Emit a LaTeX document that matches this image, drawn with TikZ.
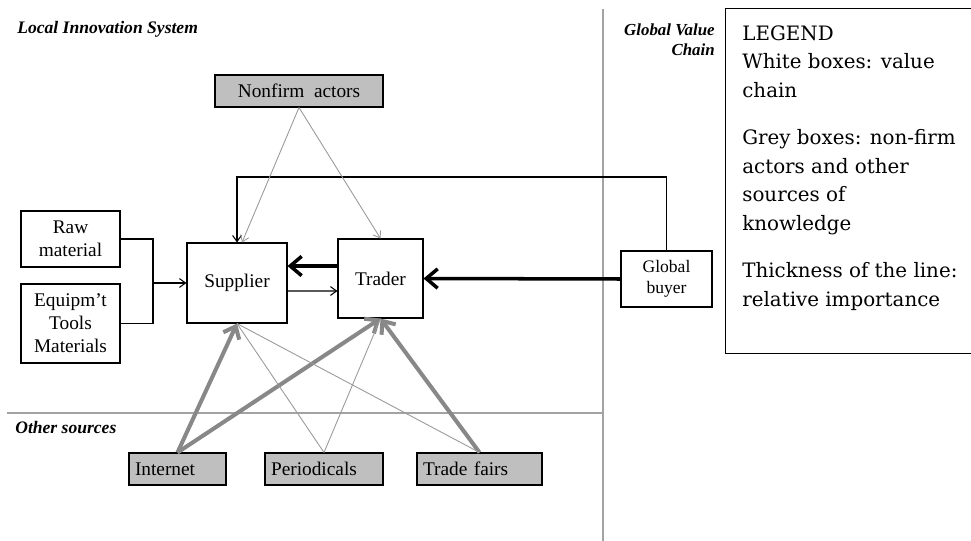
\documentclass[tikz,border=0pt]{standalone}
\usepackage{fontspec}
\setmainfont{Liberation Serif}
\newfontfamily\legendfont{DejaVu Serif}
\usetikzlibrary{arrows.meta,positioning,calc}

\definecolor{boxgrey}{HTML}{BFBFBF}
\definecolor{srcgrey}{HTML}{888888}
\definecolor{linegrey}{HTML}{999999}
\definecolor{sepgrey}{HTML}{A3A3A3}

\begin{document}
\begin{tikzpicture}[
    x=0.02cm, y=-0.02cm,
    font=\fontsize{11}{13}\selectfont,
    firm/.style={draw, rectangle, line width=0.6pt, fill=white, align=center, inner sep=1pt},
    source/.style={draw, rectangle, line width=0.6pt, fill=boxgrey, minimum height=0.64cm, inner xsep=0.12cm, inner ysep=0pt, align=left},
    heading/.style={font=\fontsize{10}{11.3}\selectfont\bfseries\itshape, inner sep=0pt},
    link/.style={draw, line width=0.6pt},
    flow/.style={draw, line width=0.6pt, -{Straight Barb[length=3.5pt,width=5pt]}},
    hint/.style={draw, linegrey, line width=0.5pt, -{Straight Barb[length=3.5pt,width=5pt]}},
    weak/.style={draw, linegrey, line width=0.5pt},
    strong/.style={draw, line width=2pt, -{Straight Barb[length=6.5pt,width=11pt]}},
    strongsrc/.style={draw, srcgrey, line width=2.3pt, -{Straight Barb[length=6pt,width=10pt]}},
    divider/.style={draw, sepgrey, line width=1.4pt}
]
    \useasboundingbox (0,0) rectangle (971,541);
    \clip (0,0) rectangle (971,541);

    % Dividers
    \path[divider] (603,9) -- (603,541);
    \path[divider] (7,413) -- (603,413);

    % Headings
    \node[heading, anchor=base west] (lis) at (17,33) {Local Innovation System};
    \node[heading, anchor=base west] (other) at (15,433) {Other sources};
    \node[heading, font=\fontsize{9.6}{11.6}\selectfont\bfseries\itshape, align=right, anchor=north east] (gvc) at (715,23) {Global Value\\Chain};

    % Nodes
    \node[source, minimum width=3.36cm, align=center] (nonfirm) at (299,91) {Nonfirm\ \ actors};
    \node[firm, minimum width=2cm, minimum height=1.6cm] (supplier) at (237,283) {Supplier};
    \node[firm, minimum width=1.7cm, minimum height=1.58cm] (trader) at (380.5,278.5) {Trader};
    \node[firm, minimum width=1.98cm, minimum height=1.12cm] (raw) at (70.5,239) {Raw\\material};
    \node[firm, minimum width=1.98cm, minimum height=1.58cm] (equip) at (70.5,323.5) {Equipm’t\\Tools\\Materials};
    \node[firm, minimum width=1.82cm, minimum height=1.12cm, font=\fontsize{10}{12}\selectfont] (buyer) at (666.5,279) {Global\\buyer};

    \node[source, text width=1.70cm] (internet) at (177.5,469) {Internet};
    \node[source, text width=2.12cm] (periodicals) at (324,469) {Periodicals};
    \node[source, text width=2.26cm] (tradefairs) at (479.5,469) {Trade fairs};

    % Legend
    \node[draw, line width=0.8pt, anchor=north west, minimum width=5.3cm, minimum height=6.9cm] (legendbox) at (725,8) {};
    \node[anchor=north west, inner sep=0pt, align=left, font=\legendfont\fontsize{11.3}{16.2}\selectfont] (legend) at (742,25) {LEGEND\\White boxes: value\\chain\\[11pt]Grey boxes: non-firm\\actors and other\\sources of\\knowledge\\[11pt]Thickness of the line:\\relative importance};

    % Connections
    \coordinate (merge) at (153,283);
    \coordinate (loop) at (450,177);
    \path[link] (raw.east) -| (merge) |- (equip.east);
    \path[flow] (merge) -- (supplier.west);
    \path[flow] ([yshift=-0.16cm]supplier.east) -- ([yshift=-0.25cm]trader.west);
    \path[strong] ([yshift=0.25cm]trader.west) -- ([yshift=0.34cm]supplier.east);
    \path[strong] (buyer.west) -- (trader.east);
    \path[flow] (buyer.north) |- (loop) -| (supplier.north);

    \path[hint] (nonfirm.south) -- ([xshift=0.1cm]supplier.north);
    \path[hint] (nonfirm.south) -- (trader.north);

    \path[strongsrc] (internet.north) -- (supplier.south);
    \path[strongsrc] (internet.north) -- (trader.south);
    \path[weak] (periodicals.north) -- (supplier.south);
    \path[weak] (periodicals.north) -- (trader.south);
    \path[strongsrc] (tradefairs.north) -- (trader.south);
    \path[weak] (tradefairs.north) -- (supplier.south);

\end{tikzpicture}
\end{document}
